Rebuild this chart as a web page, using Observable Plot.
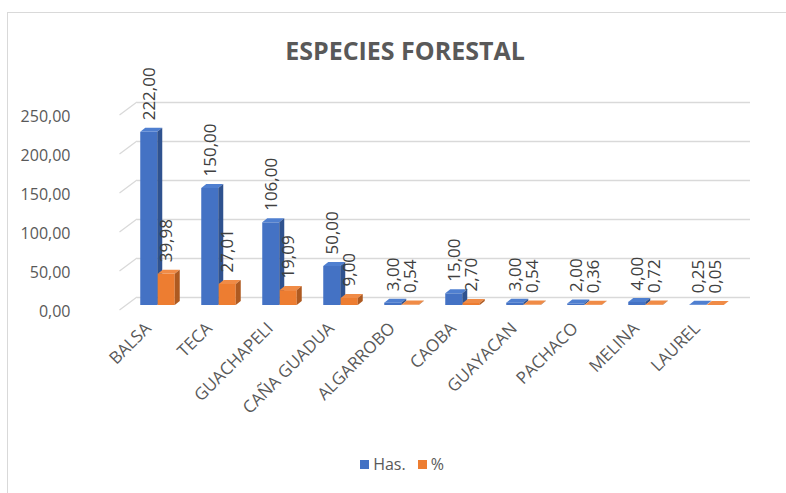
<!DOCTYPE html>
<html>
<head>
<meta charset="utf-8">
<script src="https://cdn.jsdelivr.net/npm/d3@7"></script>
<script src="https://cdn.jsdelivr.net/npm/@observablehq/plot@0.6"></script>
<style>
  body { margin: 0; background: #fff; }
  #wrap { position: relative; width: 786px; height: 493px; overflow: hidden; background: #fff; font-family: 'Open Sans', sans-serif; }
  #frame { position: absolute; left: 7px; top: 12px; width: 820px; height: 520px; border: 1px solid #D9D9D9; box-sizing: border-box; }
  #chart { position: absolute; left: 0; top: 0; }
  #title { position: absolute; left: 0; width: 810px; top: 35px; line-height: 30px; text-align: center; font-size: 25px; font-weight: 700; color: #595959; }
  #legend { position: absolute; left: 0; width: 804px; top: 454px; line-height: 20px; display: flex; justify-content: center; align-items: center; font-size: 16px; color: #595959; }
  #legend .sw { display: inline-block; width: 9px; height: 9px; margin-right: 4px; }
  #legend .item { display: flex; align-items: center; margin: 0 6px; }
</style>
</head>
<body>
<div id="wrap">
  <div id="frame"></div>
  <div id="chart"></div>
  <div id="title"></div>
  <div id="legend"></div>
</div>
<script>
const titleText = "ESPECIES FORESTAL";
const categories = ["BALSA","TECA","GUACHAPELI","CAÑA GUADUA","ALGARROBO","CAOBA","GUAYACAN","PACHACO","MELINA","LAUREL"];
const hasValues = [222, 150, 106, 50, 3, 15, 3, 2, 4, 0.25];
const pctValues = [39.98, 27.01, 19.09, 9.00, 0.54, 2.70, 0.54, 0.36, 0.72, 0.05];
const yTicks = [0, 50, 100, 150, 200, 250];
const seriesNames = ["Has.", "%"];
const seriesColors = ["#4472C4", "#ED7D31"];
const sideColors = ["#2F528F", "#AE5A21"];
const topColors = ["#4F7FD0", "#F08B46"];

const fmt = v => v.toFixed(2).replace(".", ",");

const hasData = categories.map((c, i) => ({cat: c, v: hasValues[i]}));
const pctData = categories.map((c, i) => ({cat: c, v: pctValues[i]}));

const DX3 = 5, DY3 = 4;
function threeD(topColor, sideColor) {
  return (index, scales, values, dims, ctx, next) => {
    const g = next(index, scales, values, dims, ctx);
    const sel = d3.select(g);
    const rects = [];
    sel.selectAll("rect").each(function() {
      const r = d3.select(this);
      rects.push({x: +r.attr("x"), y: +r.attr("y"), w: +r.attr("width"), h: +r.attr("height")});
    });
    for (const {x, y, w, h} of rects) {
      sel.append("polygon")
        .attr("points", [[x, y], [x + w, y], [x + w + DX3, y - DY3], [x + DX3, y - DY3]].map(p => p.join(",")).join(" "))
        .attr("fill", topColor);
      sel.append("polygon")
        .attr("points", [[x + w, y], [x + w + DX3, y - DY3], [x + w + DX3, y + h - DY3], [x + w, y + h]].map(p => p.join(",")).join(" "))
        .attr("fill", sideColor);
    }
    return g;
  };
}

function connectors(index, scales, values, dims) {
  const g = d3.create("svg:g");
  for (const t of yTicks) {
    const y = scales.y(t);
    g.append("line")
      .attr("x1", dims.marginLeft - 6).attr("y1", y + 5)
      .attr("x2", dims.marginLeft + 11.5).attr("y2", y - 8)
      .attr("stroke", "#D9D9D9").attr("stroke-width", 1.3);
  }
  return g.node();
}

const chart = Plot.plot({
  width: 786,
  height: 493,
  marginLeft: 125.5,
  marginRight: 47.5,
  marginTop: 110,
  marginBottom: 188,
  style: {fontFamily: "'Open Sans', sans-serif", background: "transparent", overflow: "visible"},
  x: {type: "band", domain: categories, paddingInner: 0.7145, paddingOuter: 0.357, axis: null},
  y: {domain: [0, 250], axis: null},
  marks: [
    Plot.ruleY(yTicks, {dx: 11.5, dy: -8, stroke: "#D9D9D9", strokeWidth: 1.3}),
    Plot.ruleY(yTicks, {render: connectors}),
    Plot.text(yTicks, {y: d => d, text: d => fmt(d), frameAnchor: "left", dx: -55.5, dy: 6, textAnchor: "end", fontSize: 16, fill: "#595959"}),
    Plot.barY(hasData, {x: "cat", y: "v", fill: seriesColors[0], dx: -8.75, render: threeD(topColors[0], sideColors[0])}),
    Plot.barY(pctData, {x: "cat", y: "v", fill: seriesColors[1], dx: 8.75, render: threeD(topColors[1], sideColors[1])}),
    Plot.text(hasData, {x: "cat", y: "v", text: d => fmt(d.v), rotate: -90, textAnchor: "start", dx: -8.75, dy: -12, fontSize: 17, fill: "#404040"}),
    Plot.text(pctData, {x: "cat", y: "v", text: d => fmt(d.v), rotate: -90, textAnchor: "start", dx: 8.75, dy: -12, fontSize: 17, fill: "#404040"}),
    Plot.text(categories, {x: d => d, text: d => d, frameAnchor: "bottom", rotate: -45, textAnchor: "end", dx: -6, dy: 24, fontSize: 17, fill: "#595959"})
  ]
});
document.getElementById("chart").appendChild(chart);
document.getElementById("title").textContent = titleText;

const legend = document.getElementById("legend");
seriesNames.forEach((name, i) => {
  const item = document.createElement("span");
  item.className = "item";
  const sw = document.createElement("span");
  sw.className = "sw";
  sw.style.background = seriesColors[i];
  item.appendChild(sw);
  item.appendChild(document.createTextNode(name));
  legend.appendChild(item);
});
</script>
</body>
</html>
